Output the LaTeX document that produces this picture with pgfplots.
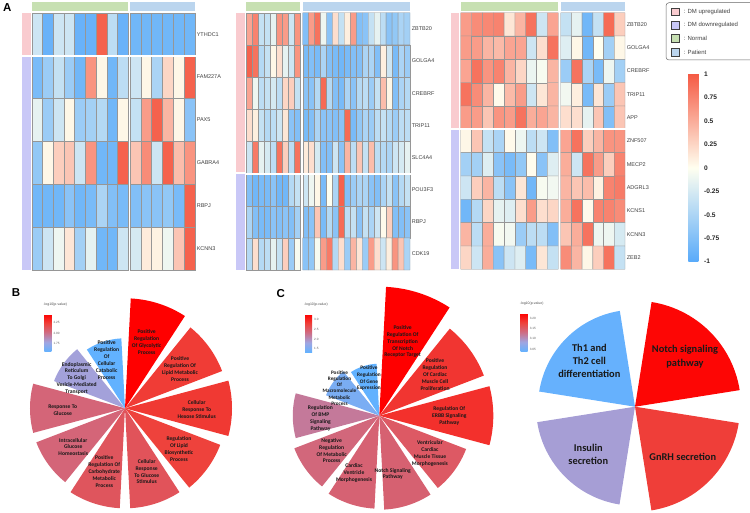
\documentclass[border=0pt]{standalone}
\usepackage{fontspec}
\setmainfont{Liberation Sans}
\newfontfamily\carlito{Carlito}
\usepackage{pgfplots}
\usepackage{pgfplotstable}
\pgfplotsset{compat=1.18}
\usepgfplotslibrary{polar}

% annotation colours
\definecolor{annUp}{RGB}{249,203,207}
\definecolor{annDown}{RGB}{201,200,247}
\definecolor{annNormal}{RGB}{199,224,178}
\definecolor{annPatient}{RGB}{187,213,238}
\definecolor{cellline}{RGB}{150,150,150}

\pgfplotsset{
  colormap={corr}{rgb255(0cm)=(88,170,250); rgb255(1cm)=(255,255,240); rgb255(2cm)=(245,90,68)},
  colormap={golog}{rgb255(0cm)=(98,178,255); rgb255(1cm)=(160,165,225); rgb255(2cm)=(205,110,135); rgb255(3cm)=(238,66,60); rgb255(4cm)=(255,0,0)},
  hm/.style={
    scale only axis, anchor=north west, enlargelimits=false, y dir=reverse,
    axis line style={draw=none}, xtick=\empty, ytick=\empty, major tick length=0pt,
    colormap name=corr, point meta min=-1, point meta max=1, clip=false},
  hmlabels/.style={ytick={0,...,#1}, yticklabel pos=right,
    yticklabel style={font=\fontsize{5.5}{6}\selectfont, text=black!75, inner sep=1.6pt}},
  rose/.style={scale only axis, width=260pt, height=260pt, ymin=0, ymax=130,
    hide axis, clip=false, anchor=center},
}
\tikzset{
  rl/.style={font=\carlito\bfseries\fontsize{5.6}{6.9}\selectfont, align=center, text=black!90, inner sep=0pt},
  rlbig/.style={font=\carlito\bfseries\fontsize{10.4}{13.3}\selectfont, align=center, text=black!90, inner sep=0pt},
}

% ---------------- correlation matrices (row by row, normal | patient) -------------
\pgfplotstableread[row sep=\\]{
v\\
-0.30\\-0.90\\-0.30\\-0.30\\-0.90\\-0.90\\0.95\\-0.40\\-0.90\\
-0.80\\-0.60\\-0.35\\-0.60\\-0.85\\0.65\\0.05\\-0.85\\-0.40\\
-0.15\\-0.60\\-0.30\\0.05\\-0.60\\-0.55\\-0.45\\-0.85\\0.05\\
-0.65\\0.05\\0.30\\0.35\\-0.30\\0.65\\-0.85\\-0.85\\0.95\\
-0.85\\-0.85\\-0.85\\-0.70\\-0.85\\-0.80\\-0.50\\-0.75\\-0.80\\
-0.60\\-0.30\\-0.10\\0.15\\-0.55\\-0.15\\-0.85\\-0.85\\-0.30\\
}\hmAn
\pgfplotstableread[row sep=\\]{
v\\
-0.85\\-0.85\\-0.85\\-0.85\\-0.85\\-0.85\\
-0.30\\0.05\\-0.50\\0.25\\0.05\\0.95\\
-0.35\\0.60\\0.95\\0.45\\0.05\\-0.70\\
0.35\\0.70\\-0.30\\0.95\\0.40\\0.65\\
-0.75\\-0.70\\-0.70\\-0.65\\-0.80\\0.95\\
-0.25\\0.12\\0.08\\-0.10\\0.35\\0.95\\
}\hmAp
\pgfplotstableread[row sep=\\]{
v\\
0.55\\0.75\\-0.35\\-0.35\\-0.15\\0.65\\0.60\\-0.30\\0.65\\
0.95\\0.85\\-0.45\\-0.35\\0.05\\0.20\\-0.15\\-0.30\\0.65\\
0.55\\-0.10\\-0.40\\-0.35\\-0.25\\-0.40\\0.25\\0.30\\-0.35\\
0.20\\0.10\\-0.35\\-0.45\\-0.40\\-0.30\\0.15\\-0.70\\-0.75\\
-0.30\\0.80\\-0.15\\-0.25\\-0.40\\0.85\\0.30\\-0.40\\0.85\\
-0.75\\-0.85\\-0.80\\-0.80\\-0.70\\-0.85\\-0.85\\-0.45\\-0.35\\
-0.50\\-0.75\\-0.80\\-0.80\\-0.70\\-0.75\\-0.70\\-0.75\\-0.55\\
-0.45\\0.20\\-0.45\\-0.40\\-0.15\\-0.35\\0.30\\-0.60\\-0.05\\
}\hmBn
\pgfplotstableread[row sep=\\]{
v\\
-0.75\\0.60\\0.85\\-0.10\\-0.70\\0.20\\-0.35\\0.10\\0.60\\-0.75\\-0.70\\-0.35\\-0.15\\-0.40\\-0.70\\-0.65\\-0.50\\-0.55\\
-0.80\\-0.75\\-0.80\\-0.50\\-0.75\\-0.80\\-0.85\\-0.80\\-0.75\\-0.75\\-0.50\\-0.50\\-0.75\\0.10\\-0.30\\-0.80\\-0.50\\-0.60\\
-0.70\\-0.70\\-0.45\\0.90\\-0.45\\-0.75\\-0.80\\-0.50\\-0.70\\-0.45\\-0.40\\-0.60\\-0.35\\0.40\\0.05\\-0.75\\-0.50\\-0.45\\
-0.80\\-0.75\\-0.50\\-0.70\\-0.70\\-0.75\\-0.70\\0.90\\-0.80\\-0.65\\-0.50\\-0.60\\-0.40\\-0.35\\-0.45\\-0.60\\-0.40\\-0.40\\
0.12\\0.20\\-0.25\\-0.75\\-0.75\\-0.30\\-0.70\\0.45\\-0.40\\0.35\\-0.35\\0.40\\-0.40\\-0.45\\-0.50\\-0.30\\-0.25\\-0.15\\
-0.30\\-0.10\\0.05\\-0.80\\0.00\\-0.50\\0.95\\-0.75\\-0.60\\-0.50\\-0.50\\-0.70\\-0.75\\-0.50\\-0.35\\-0.70\\-0.45\\-0.35\\
-0.75\\-0.70\\0.35\\-0.80\\-0.45\\-0.70\\0.90\\-0.40\\-0.35\\-0.70\\-0.35\\-0.50\\-0.30\\0.03\\0.30\\-0.75\\-0.75\\-0.70\\
-0.70\\-0.65\\-0.05\\0.60\\0.80\\-0.45\\0.20\\-0.60\\0.45\\0.15\\-0.60\\0.60\\0.20\\-0.30\\0.10\\0.65\\0.35\\-0.50\\
}\hmBp
\pgfplotstableread[row sep=\\]{
v\\
0.60\\0.70\\0.72\\0.75\\0.15\\0.45\\0.85\\-0.30\\0.55\\
0.60\\0.60\\0.45\\0.42\\0.55\\0.55\\-0.30\\0.20\\0.85\\
0.55\\0.85\\0.65\\0.75\\0.45\\0.25\\-0.12\\-0.05\\0.45\\
0.85\\0.70\\0.45\\0.03\\0.42\\0.60\\-0.30\\0.15\\0.45\\
0.60\\0.60\\0.35\\0.65\\0.60\\0.85\\0.50\\0.55\\0.45\\
0.05\\0.35\\-0.35\\-0.50\\0.03\\-0.10\\-0.40\\-0.30\\-0.75\\
-0.55\\-0.55\\-0.20\\-0.70\\-0.80\\-0.65\\0.02\\-0.70\\-0.20\\
-0.30\\0.30\\0.45\\-0.40\\-0.70\\0.15\\-0.85\\-0.05\\-0.08\\
-0.85\\-0.45\\0.25\\-0.15\\-0.20\\0.20\\0.60\\0.20\\0.25\\
0.45\\-0.40\\0.50\\-0.05\\-0.08\\-0.60\\-0.40\\-0.40\\-0.75\\
0.25\\-0.30\\0.50\\-0.70\\-0.30\\-0.20\\-0.80\\0.15\\-0.35\\
}\hmCn
\pgfplotstableread[row sep=\\]{
v\\
-0.35\\-0.15\\-0.85\\-0.35\\0.90\\0.30\\
-0.20\\0.05\\-0.85\\0.00\\-0.55\\0.05\\
-0.60\\0.85\\-0.50\\-0.80\\-0.10\\-0.55\\
-0.08\\0.10\\-0.80\\0.15\\-0.60\\0.35\\
0.20\\0.20\\-0.15\\0.35\\-0.75\\0.35\\
0.55\\0.85\\0.30\\0.45\\0.65\\0.65\\
0.50\\-0.30\\0.85\\0.60\\0.30\\0.75\\
0.45\\0.35\\0.40\\0.08\\0.75\\0.80\\
0.50\\0.85\\0.03\\0.75\\0.75\\0.70\\
0.35\\0.50\\0.85\\-0.10\\-0.10\\-0.25\\
0.70\\0.45\\0.05\\0.30\\0.85\\-0.35\\
}\hmCp

% ---------------- enrichment roses: start angle, end angle, radius, -log10(p) -----
\pgfplotstableread{
a     b     r     v
87    57    110   2.45
51    21    104   2.25
15    -15   107   2.26
-21   -51   102   2.23
-57   -87   100   2.14
-93   -123  100   2.13
-129  -159  95    2.05
-165  -195  95    2.05
-201  -231  76    1.80
-237  -267  70    1.56
}\roseB
\pgfplotstableread{
a     b     r     v
87    57    129   3.27
51    21    112   2.88
15    -15   114   2.92
-21   -51   93    2.53
-57   -87   94    2.44
-93   -123  93    2.43
-129  -159  91    2.38
-165  -195  86.5  2.20
-201  -231  57    1.52
-237  -267  52    1.33
}\roseCa
\pgfplotstableread{
a     b     r     v
81    9     106   3.22
-9    -81   105   3.18
-99   -171  99    3.09
-189  -261  97    3.04
}\roseCb

% fill colour of each sector from its -log10(p) value
\newcommand\sectorcolors[4]{%
  \pgfplotsset{colormap name=golog}%
  \pgfplotstablegetrowsof{#1}%
  \pgfmathtruncatemacro\nlast{\pgfplotsretval-1}%
  \pgfplotsforeachungrouped \i in {0,...,\nlast}{%
    \pgfplotstablegetelem{\i}{v}\of{#1}%
    \pgfmathtruncatemacro\cmval{1000*(\pgfplotsretval-(#3))/((#4)-(#3))}%
    \pgfplotscolormapdefinemappedcolor{\cmval}%
    \colorlet{#2\i}{mapped color}}}
\sectorcolors{\roseB}{sB}{1.56}{2.45}
\sectorcolors{\roseCa}{sCa}{1.33}{3.27}
\sectorcolors{\roseCb}{sCb}{3.037}{3.224}

% draw each sector of a rose as a filled wedge
\newcommand\drawsectors[2]{%
  \pgfplotstablegetrowsof{#1}%
  \pgfmathtruncatemacro\nlast{\pgfplotsretval-1}%
  \pgfplotsforeachungrouped \i in {0,...,\nlast}{%
    \pgfplotstablegetelem{\i}{a}\of{#1}\let\sa\pgfplotsretval
    \pgfplotstablegetelem{\i}{b}\of{#1}\let\sb\pgfplotsretval
    \pgfplotstablegetelem{\i}{r}\of{#1}\let\sr\pgfplotsretval
    \gdef\arcpts{}%
    \foreach \k in {0,...,30}{%
      \pgfmathsetmacro\ang{\sa+(\sb-\sa)*\k/30}%
      \xdef\arcpts{\arcpts(\ang,\sr)}}%
    \edef\cmd{\noexpand\addplot[draw=none,fill=#2\i] coordinates {(\sa,0)\arcpts} -- cycle;}%
    \cmd}}

% heat map cells: the list runs row by row, #2 cells to a row
\newcommand\cells[2]{%
  \addplot[matrix plot*, mesh/cols=#2, point meta=explicit, draw=cellline, line width=0.35pt]
    table[x index=0, y index=0, x expr={int(mod(\coordindex+0.01,#2))},
          y expr={int((\coordindex+0.5)/#2)}, meta index=0] {#1};}

% small colour key of a rose
\newcommand\golegend[7]{%
  \begin{axis}[at={(#1pt,-#2pt)}, anchor=north west, scale only axis, width=2pt, height=#3pt,
      hide axis, colormap name=golog, point meta min=#4, point meta max=#5,
      colorbar, colorbar style={at={(0,1)}, anchor=north west, scale only axis,
        width=7pt, height=#3pt, axis line style={draw=none}, major tick length=0pt,
        ytick={#6}, yticklabels={#7},
        yticklabel style={font=\fontsize{3.1}{3.5}\selectfont, text=black!65, inner sep=1pt, xshift=1pt},
        title={-log10(p-value)},
        title style={font=\fontsize{3.5}{4}\selectfont, text=black!70, anchor=south west,
          at={(0,1)}, inner sep=1pt, xshift=-2pt, yshift=1pt}}]
    \addplot[draw=none] coordinates {(0,0)};
  \end{axis}}

\newcommand\annot[5]{\fill[#5] (#1pt,-#2pt) rectangle (#3pt,-#4pt);}

\begin{document}
\begin{tikzpicture}
\path[use as bounding box] (0,0) rectangle (750pt,-513pt);

% ======================= A : heat maps =======================
\node[font=\bfseries\fontsize{11.5}{12}\selectfont, inner sep=0pt] at (7.3pt,-7.5pt) {A};

% block 1
\annot{31.7}{2}{128.3}{10.7}{annNormal}
\annot{130}{2}{195}{10.7}{annPatient}
\annot{21.7}{12.7}{30.7}{54.6}{annUp}
\annot{21.7}{56.6}{30.7}{270}{annDown}
\begin{axis}[hm, at={(31.7pt,-12.7pt)}, width=96.6pt, height=257.3pt,
    xmin=-0.5, xmax=8.5, ymin=-0.5, ymax=5.5]
  \cells{\hmAn}{9}
  \draw[white, line width=2pt] (axis cs:-0.6,0.5) -- (axis cs:8.6,0.5);
\end{axis}
\begin{axis}[hm, at={(130pt,-12.7pt)}, width=65pt, height=257.3pt,
    xmin=-0.5, xmax=5.5, ymin=-0.5, ymax=5.5, hmlabels=5,
    yticklabels={YTHDC1,FAM227A,PAX5,GABRA4,RBPJ,KCNN3}]
  \cells{\hmAp}{6}
  \draw[white, line width=2pt] (axis cs:-0.6,0.5) -- (axis cs:5.6,0.5);
\end{axis}

% block 2
\annot{246.3}{2}{300.3}{10.7}{annNormal}
\annot{302.7}{2}{410}{10.7}{annPatient}
\annot{236}{12.7}{245.3}{172.1}{annUp}
\annot{236}{174.1}{245.3}{270}{annDown}
\begin{axis}[hm, at={(246.3pt,-12.7pt)}, width=54pt, height=257.3pt,
    xmin=-0.5, xmax=8.5, ymin=-0.5, ymax=7.5]
  \cells{\hmBn}{9}
  \draw[white, line width=2pt] (axis cs:-0.6,4.5) -- (axis cs:8.6,4.5);
\end{axis}
\begin{axis}[hm, at={(302.7pt,-12.7pt)}, width=107.3pt, height=257.3pt,
    xmin=-0.5, xmax=17.5, ymin=-0.5, ymax=7.5, hmlabels=7,
    yticklabels={ZBTB20,GOLGA4,CREBRF,TRIP11,SLC4A4,POU3F3,RBPJ,CDK19}]
  \cells{\hmBp}{18}
  \draw[white, line width=2pt] (axis cs:-0.6,4.5) -- (axis cs:17.6,4.5);
\end{axis}

% block 3
\annot{460.7}{2}{558.3}{10.7}{annNormal}
\annot{560.7}{2}{625}{10.7}{annPatient}
\annot{451}{12.7}{459.3}{128.3}{annUp}
\annot{451}{130.3}{459.3}{269.3}{annDown}
\begin{axis}[hm, at={(460.7pt,-12.7pt)}, width=97.6pt, height=256.6pt,
    xmin=-0.5, xmax=8.5, ymin=-0.5, ymax=10.5]
  \cells{\hmCn}{9}
  \draw[white, line width=2pt] (axis cs:-0.6,4.5) -- (axis cs:8.6,4.5);
\end{axis}
\begin{axis}[hm, at={(560.7pt,-12.7pt)}, width=64.3pt, height=256.6pt,
    xmin=-0.5, xmax=5.5, ymin=-0.5, ymax=10.5, hmlabels=10,
    yticklabels={ZBTB20,GOLGA4,CREBRF,TRIP11,APP,ZNF507,MECP2,ADGRL3,KCNS1,KCNN3,ZEB2}]
  \cells{\hmCp}{6}
  \draw[white, line width=2pt] (axis cs:-0.6,4.5) -- (axis cs:5.6,4.5);
\end{axis}

% annotation key
\draw[black!60, line width=0.5pt, rounded corners=3pt] (666pt,-2.7pt) rectangle (765pt,-60pt);
\foreach \c/\t/\y in {annUp/DM upregulated/11.7, annDown/DM downregulated/25, annNormal/Normal/38.3, annPatient/Patient/52.3}{
  \draw[fill=\c, draw=black!75, line width=0.5pt] (671pt,{-\y pt+3.9pt}) rectangle (679.5pt,{-\y pt-3.9pt});
  \node[anchor=west, font=\fontsize{6}{6}\selectfont, text=black!75, inner sep=0pt] at (683.5pt,-\y pt) {: \t};
}

% correlation colour key
\begin{axis}[at={(688.3pt,-74pt)}, anchor=north west, scale only axis, width=2pt, height=187.7pt,
    hide axis, colormap name=corr, point meta min=-1, point meta max=1,
    colorbar, colorbar style={at={(0,1)}, anchor=north west, scale only axis,
      width=10pt, height=187.7pt, axis line style={draw=none}, major tick length=0pt,
      ytick={-1,-0.75,-0.5,-0.25,0,0.25,0.5,0.75,1},
      yticklabels={-1,-0.75,-0.5,-0.25,0,0.25,0.5,0.75,1},
      yticklabel style={font=\bfseries\fontsize{6.6}{7}\selectfont, text=black!85, inner sep=0pt, xshift=5.7pt}}]
  \addplot[draw=none] coordinates {(0,0)};
\end{axis}

% ======================= B =======================
\node[font=\bfseries\fontsize{11.5}{12}\selectfont, inner sep=0pt] at (16pt,-292.5pt) {B};
\begin{polaraxis}[rose, at={(125pt,-408.3pt)}]
  \drawsectors{\roseB}{sB}
  \node[rl] at (axis cs:72,70) {Positive\\Regulation\\Of Glycolytic\\Process};
  \node[rl] at (axis cs:35.3,67.4) {Positive\\Regulation Of\\Lipid Metabolic\\Process};
  \node[rl] at (axis cs:-0.8,71.7) {Cellular\\Response To\\Hexose Stimulus};
  \node[rl] at (axis cs:-37,67.6) {Regulation\\Of Lipid\\Biosynthetic\\Process};
  \node[rl] at (axis cs:-71.1,67) {Cellular\\Response\\To Glucose\\Stimulus};
  \node[rl] at (axis cs:-108.1,66.7) {Positive\\Regulation Of\\Carbohydrate\\Metabolic\\Process};
  \node[rl] at (axis cs:-143.2,64.6) {Intracellular\\Glucose\\Homeostasis};
  \node[rl] at (axis cs:181.6,62.3) {Response To\\Glucose};
  \node[rl] at (axis cs:148.2,56.9) {Endoplasmic\\Reticulum\\To Golgi\\Vesicle-Mediated\\Transport};
  \node[rl] at (axis cs:110.8,51.7) {Positive\\Regulation\\Of\\Cellular\\Catabolic\\Process};
\end{polaraxis}
\golegend{44.3}{314}{37.7}{1.56}{2.45}{1.75,2,2.25}{1.75,2.00,2.25}

% ======================= C =======================
\node[font=\bfseries\fontsize{11.5}{12}\selectfont, inner sep=0pt] at (280.8pt,-293.2pt) {C};
\begin{polaraxis}[rose, at={(379.3pt,-415.7pt)}]
  \drawsectors{\roseCa}{sCa}
  \node[rl] at (axis cs:72.5,77.6) {Positive\\Regulation Of\\Transcription\\Of Notch\\Receptor Target};
  \node[rl] at (axis cs:36.6,69.4) {Positive\\Regulation\\Of Cardiac\\Muscle Cell\\Proliferation};
  \node[rl] at (axis cs:0,70) {Regulation Of\\ERBB Signaling\\Pathway};
  \node[rl] at (axis cs:-36.6,63.1) {Ventricular\\Cardiac\\Muscle Tissue\\Morphogenesis};
  \node[rl] at (axis cs:-77,59.8) {Notch Signaling\\Pathway};
  \node[rl] at (axis cs:-113.7,62.9) {Cardiac\\Ventricle\\Morphogenesis};
  \node[rl] at (axis cs:-143.7,59.1) {Negative\\Regulation\\Of Metabolic\\Process};
  \node[rl] at (axis cs:182.5,58.9) {Regulation\\Of BMP\\Signaling\\Pathway};
  \node[rl, font=\carlito\bfseries\fontsize{5.2}{6.3}\selectfont] at (axis cs:145.2,48.5) {Positive\\Regulation\\Of\\Macromolecule\\Metabolic\\Process};
  \node[rl, font=\carlito\bfseries\fontsize{5.3}{6.7}\selectfont] at (axis cs:105.4,38.8) {Positive\\Regulation\\Of Gene\\Expression};
\end{polaraxis}
\golegend{305}{314}{38.3}{1.33}{3.27}{1.5,2,2.5,3}{1.5,2.0,2.5,3.0}

\begin{polaraxis}[rose, at={(635pt,-406.7pt)}]
  \drawsectors{\roseCb}{sCb}
  \node[rlbig] at (axis cs:45,70.7) {Notch signaling\\pathway};
  \node[rlbig] at (axis cs:-46.3,69.1) {GnRH secretion};
  \node[rlbig] at (axis cs:-134.6,66.5) {Insulin\\secretion};
  \node[rlbig] at (axis cs:134.8,64.8) {Th1 and\\Th2 cell\\differentiation};
\end{polaraxis}
\golegend{520.7}{313.3}{38.4}{3.037}{3.224}{3.05,3.1,3.15,3.2}{3.05,3.10,3.15,3.20}
\end{tikzpicture}
\end{document}
